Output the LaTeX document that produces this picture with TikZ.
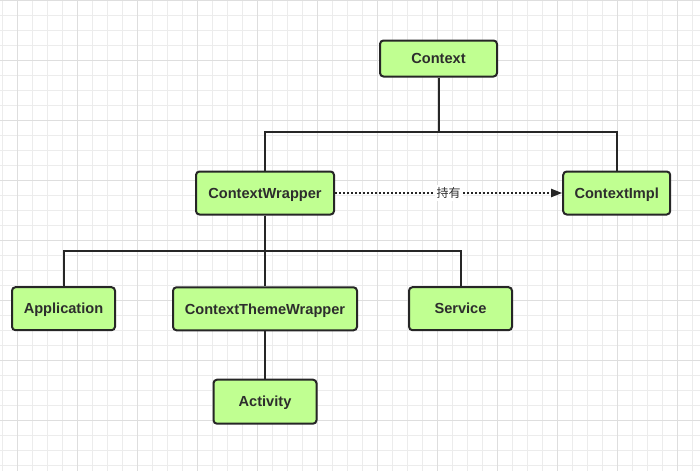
\documentclass[tikz,border=0pt]{standalone}
\usepackage{fontspec}
\setmainfont{Liberation Sans}
\newfontfamily\cjk{Noto Sans CJK SC}
\usetikzlibrary{arrows.meta}
\definecolor{gridlight}{RGB}{236,236,236}
\definecolor{griddark}{RGB}{222,222,222}
\definecolor{boxfill}{RGB}{192,255,145}
\definecolor{boxline}{RGB}{38,38,38}
\definecolor{txt}{RGB}{45,45,45}
\tikzset{
  cls/.style={draw=boxline, line width=2pt, fill=boxfill, rounded corners=3.5pt,
    minimum height=43pt, inner sep=0pt, text=txt, text height=10.5pt, text depth=0pt,
    font=\fontsize{14.6}{16}\selectfont\bfseries},
  conn/.style={draw=boxline, line width=2pt},
  holds/.style={draw=boxline, line width=2pt, dash pattern=on 2pt off 2pt,
    -{Triangle[length=11pt,width=8pt]}},
  holdlabel/.style={fill=white, inner sep=2pt, text=txt,
    font=\cjk\fontsize{12}{14}\selectfont}
}
\begin{document}
\begin{tikzpicture}[x=1pt,y=-1pt]
\useasboundingbox (0,0) rectangle (700,471);
\fill[white] (0,0) rectangle (700,471);
% grid
\foreach \k in {0,...,46} {
  \draw[gridlight, line width=1pt] ({2.7+15*\k},0) -- ({2.7+15*\k},471);
}
\foreach \k in {0,...,31} {
  \draw[gridlight, line width=1pt] (0,{15*\k}) -- (700,{15*\k});
}
\foreach \k in {0,...,11} {
  \draw[griddark, line width=1pt] ({17.7+60*\k},0) -- ({17.7+60*\k},471);
}
\foreach \k in {0,...,7} {
  \draw[griddark, line width=1pt] (0,{60*\k}) -- (700,{60*\k});
}
% nodes
\node[cls, minimum width=117pt, minimum height=36pt] (ctx) at (438.5,58.5) {Context};
\node[cls, minimum width=138pt] (cw) at (265,193) {ContextWrapper};
\node[cls, minimum width=107pt] (ci) at (616.7,193) {ContextImpl};
\node[cls, minimum width=103pt] (app) at (63.5,308.7) {Application};
\node[cls, minimum width=184pt] (ctw) at (265,308.8) {ContextThemeWrapper};
\node[cls, minimum width=103pt] (svc) at (460.5,308.7) {Service};
\node[cls, minimum width=103pt, minimum height=44pt] (act) at (265,401.7) {Activity};
% connectors
\draw[conn] (ctx.south) -- ++(0,54) -| (cw.north);
\draw[conn] (ctx.south) -- ++(0,54) -| (ci.north);
\draw[conn] (cw.south) -- ++(0,35.7) -| (app.north);
\draw[conn] (cw.south) -- (ctw.north);
\draw[conn] (cw.south) -- ++(0,35.7) -| (svc.north);
\draw[conn] (ctw.south) -- (act.north);
\draw[holds] (cw.east) -- node[holdlabel] {持有} (ci.west);
\end{tikzpicture}
\end{document}
